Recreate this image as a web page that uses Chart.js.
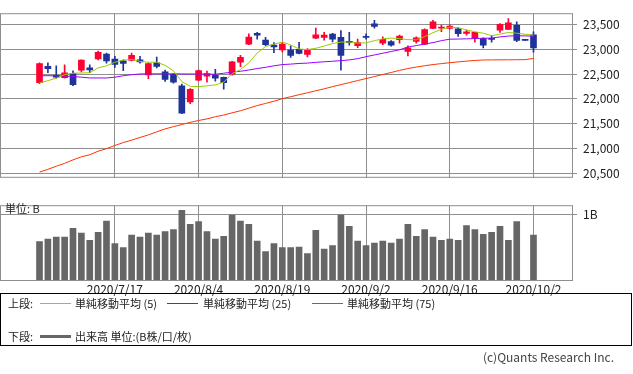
<!DOCTYPE html>
<html lang="ja">
<head>
<meta charset="UTF-8">
<title>日足チャート</title>
<script src="https://cdn.jsdelivr.net/npm/chart.js"></script>
<style>
    body {
        margin: 0;
        width: 633px;
        height: 374px;
        position: relative;
        overflow: hidden;
        background: #fff;
        font-family: "Noto Sans CJK JP", sans-serif;
        color: #222;
    }
    #priceCanvas { position: absolute; left: 0; top: 0; }
    #volCanvas { position: absolute; left: 0; top: 192px; }
    #unit { position: absolute; left: 5px; top: 201px; font-size: 11px; line-height: 14px; }
    #legend {
        position: absolute; left: 0; top: 293px;
        width: 630px; height: 51px;
        border: 1px solid #000;
        font-size: 11px;
    }
    #legend span { position: absolute; line-height: 14px; white-space: nowrap; }
    #legend i { position: absolute; display: block; width: 31px; }
    #copy { position: absolute; right: 19px; top: 350px; font-size: 12px; color: #444; line-height: 14px; }
</style>
</head>
<body>
<canvas id="priceCanvas" width="633" height="191"></canvas>
<canvas id="volCanvas" width="633" height="108"></canvas>
<div id="unit">単位: B</div>

<div id="legend">
    <span style="left:7px;top:2px">上段:</span>
    <i style="left:39px;top:9px;border-top:1px solid #99cc00"></i>
    <span style="left:74px;top:2px">単純移動平均 (5)</span>
    <i style="left:166px;top:9px;border-top:1px solid #9900ff"></i>
    <span style="left:202px;top:2px">単純移動平均 (25)</span>
    <i style="left:311px;top:9px;border-top:1px solid #ff3300"></i>
    <span style="left:346px;top:2px">単純移動平均 (75)</span>

    <span style="left:7px;top:35px">下段:</span>
    <i style="left:39px;top:41px;border-top:3px solid #666"></i>
    <span style="left:74px;top:35px">出来高 単位:(B株/口/枚)</span>
</div>
<div id="copy">(c)Quants Research Inc.</div>

<script>
    // trading days shown (10/1 = TSE system outage, no trades)
    const dates = [
        '2020/7/6', '2020/7/7', '2020/7/8', '2020/7/9', '2020/7/10', '2020/7/13', '2020/7/14', '2020/7/15', '2020/7/16', '2020/7/17',
        '2020/7/20', '2020/7/21', '2020/7/22', '2020/7/27', '2020/7/28', '2020/7/29', '2020/7/30', '2020/7/31', '2020/8/3', '2020/8/4',
        '2020/8/5', '2020/8/6', '2020/8/7', '2020/8/11', '2020/8/12', '2020/8/13', '2020/8/14', '2020/8/17', '2020/8/18', '2020/8/19',
        '2020/8/20', '2020/8/21', '2020/8/24', '2020/8/25', '2020/8/26', '2020/8/27', '2020/8/28', '2020/8/31', '2020/9/1', '2020/9/2',
        '2020/9/3', '2020/9/4', '2020/9/7', '2020/9/8', '2020/9/9', '2020/9/10', '2020/9/11', '2020/9/14', '2020/9/15', '2020/9/16',
        '2020/9/17', '2020/9/18', '2020/9/23', '2020/9/24', '2020/9/25', '2020/9/28', '2020/9/29', '2020/9/30', '2020/10/1', '2020/10/2'
    ];

    const openP = [
        22330, 22660, 22480, 22430, 22520, 22580, 22630, 22810, 22910, 22805,
        22770, 22780, 22790, 22485, 22730, 22550, 22500, 22265, 21940, 22380,
        22460, 22480, 22435, 22500, 22745, 23110, 23330, 23190, 23090, 22990,
        22990, 23005, 22900, 23230, 23245, 23310, 23245, 23165, 23078, 23262,
        23520, 23130, 23160, 23200, 22960, 23165, 23110, 23425, 23430, 23425,
        23418, 23328, 23235, 23220, 23221, 23390, 23405, 23488, 23185, 23295
    ];
    const highP = [
        22730, 22730, 22670, 22690, 22570, 22790, 22690, 22970, 22930, 22860,
        22790, 22930, 22860, 22730, 22845, 22585, 22515, 22300, 22210, 22590,
        22565, 22600, 22440, 22760, 22880, 23315, 23350, 23245, 23140, 23145,
        23075, 23145, 23020, 23435, 23350, 23330, 23385, 23350, 23210, 23315,
        23590, 23255, 23180, 23290, 23075, 23255, 23420, 23590, 23495, 23500,
        23440, 23395, 23350, 23235, 23280, 23525, 23625, 23560, 23185, 23360
    ];
    const lowP = [
        22310, 22530, 22420, 22420, 22270, 22545, 22530, 22790, 22725, 22640,
        22570, 22770, 22726, 22410, 22630, 22355, 22320, 21700, 21905, 22370,
        22340, 22360, 22200, 22480, 22655, 23100, 23210, 23080, 22935, 22950,
        22840, 22910, 22850, 23220, 23190, 23155, 22580, 23090, 23035, 23210,
        23430, 23100, 23070, 23130, 22870, 23130, 23100, 23420, 23360, 23410,
        23265, 23290, 23150, 23030, 23150, 23345, 23400, 23160, 23185, 22945
    ];
    const closeP = [
        22714, 22614, 22439, 22529, 22291, 22785, 22587, 22945, 22770, 22696,
        22717, 22884, 22751, 22716, 22657, 22397, 22339, 21710, 22195, 22574,
        22515, 22418, 22330, 22750, 22844, 23250, 23289, 23097, 23051, 23111,
        22881, 22920, 22986, 23297, 23291, 23209, 22883, 23140, 23138, 23247,
        23466, 23205, 23090, 23274, 23033, 23235, 23406, 23559, 23455, 23475,
        23319, 23360, 23346, 23088, 23205, 23512, 23539, 23185, 23185, 23030
    ];

    const ma5 = [
        22325, 22370, 22420, 22490, 22520, 22525, 22530, 22630, 22670, 22743,
        22785, 22800, 22760, 22743, 22745, 22680, 22570, 22350, 22255, 22250,
        22265, 22285, 22340, 22511, 22593, 22730, 22930, 23060, 23110, 23150,
        23092, 23011, 22999, 23025, 23070, 23120, 23150, 23151, 23130, 23135,
        23180, 23215, 23232, 23221, 23200, 23197, 23260, 23340, 23410, 23453,
        23443, 23395, 23360, 23330, 23280, 23313, 23345, 23330, 23310, 23290
    ];
    const ma25 = [
        22470, 22470, 22468, 22462, 22455, 22440, 22425, 22424, 22424, 22440,
        22470, 22490, 22505, 22507, 22508, 22508, 22507, 22506, 22505, 22504,
        22502, 22500, 22520, 22543, 22560, 22585, 22615, 22640, 22670, 22695,
        22705, 22718, 22725, 22740, 22752, 22762, 22775, 22790, 22815, 22855,
        22890, 22925, 22960, 22995, 23050, 23080, 23110, 23140, 23180, 23209,
        23212, 23216, 23222, 23228, 23232, 23255, 23272, 23279, 23276, 23270
    ];
    const ma75 = [
        20519, 20576, 20637, 20697, 20767, 20828, 20871, 20942, 20994, 21058,
        21116, 21167, 21220, 21272, 21334, 21394, 21439, 21482, 21526, 21564,
        21596, 21639, 21674, 21718, 21761, 21813, 21866, 21909, 21953, 22005,
        22045, 22085, 22125, 22165, 22205, 22248, 22290, 22330, 22372, 22412,
        22452, 22495, 22535, 22578, 22615, 22645, 22672, 22695, 22715, 22733,
        22750, 22765, 22778, 22788, 22790, 22791, 22792, 22793, 22795, 22820
    ];

    // volume in B (billion shares)
    const volume = [
        0.59, 0.63, 0.66, 0.66, 0.79, 0.72, 0.61, 0.73, 0.90, 0.56,
        0.50, 0.69, 0.66, 0.72, 0.69, 0.74, 0.77, 1.06, 0.85, 0.89,
        0.74, 0.63, 0.67, 0.99, 0.90, 0.85, 0.60, 0.44, 0.56, 0.50,
        0.50, 0.51, 0.41, 0.76, 0.48, 0.53, 0.99, 0.82, 0.60, 0.53,
        0.57, 0.60, 0.57, 0.63, 0.85, 0.67, 0.77, 0.66, 0.61, 0.63,
        0.61, 0.83, 0.77, 0.70, 0.73, 0.82, 0.61, 0.89, null, 0.69
    ];

    const tickDates = ['2020/7/17', '2020/8/4', '2020/8/19', '2020/9/2', '2020/9/16', '2020/10/2'];
    const priceTicks = [20500, 21000, 21500, 22000, 22500, 23000, 23500];
    const volTicks = [1];

    const UP = '#ff0033';
    const DOWN = '#1f3399';
    const GRID = '#8e8e8e';

    Chart.defaults.font.family = '"Noto Sans CJK JP", sans-serif';
    Chart.defaults.color = '#222';

    const tickIdx = tickDates.map(d => dates.indexOf(d));
    const candleColors = closeP.map((c, i) => c > openP[i] ? UP : DOWN);
    const xy = arr => arr.map((v, i) => ({ x: i, y: v }));

    // shared x range: a few empty slots either side of the candles
    const X_MIN = -4.72;
    const X_MAX = 63.72;

    // draws the plot frame
    const framePlugin = {
        id: 'frame',
        afterDraw(chart) {
            const { ctx, chartArea: a } = chart;
            ctx.save();
            ctx.strokeStyle = GRID;
            ctx.lineWidth = 1;
            ctx.strokeRect(a.left + 0.5, a.top + 0.5, a.right - a.left - 1, a.bottom - a.top - 1);
            ctx.restore();
        }
    };

    function xScale(showLabels) {
        return {
            type: 'linear',
            min: X_MIN,
            max: X_MAX,
            offset: false,
            afterBuildTicks: s => { s.ticks = tickIdx.map(v => ({ value: v })); },
            afterFit: s => { s.height = showLabels ? 19 : 0; },
            ticks: {
                display: showLabels,
                autoSkip: false,
                maxRotation: 0,
                padding: 1,
                font: { size: 12 },
                callback: v => dates[v]
            },
            grid: { color: GRID, lineWidth: 1, drawTicks: false, offset: false },
            border: { display: false }
        };
    }

    // upper panel: candles + moving averages
    new Chart(document.getElementById('priceCanvas'), {
        data: {
            datasets: [
                { type: 'line', label: '単純移動平均 (5)', data: xy(ma5), borderColor: '#99cc00', borderWidth: 1, pointRadius: 0 },
                { type: 'line', label: '単純移動平均 (25)', data: xy(ma25), borderColor: '#9900ff', borderWidth: 1, pointRadius: 0 },
                { type: 'line', label: '単純移動平均 (75)', data: xy(ma75), borderColor: '#ff3300', borderWidth: 1, pointRadius: 0 },
                {
                    type: 'bar', label: 'body',
                    data: openP.map((o, i) => ({ x: i, y: [o, closeP[i]] })),
                    backgroundColor: candleColors, barThickness: 6, grouped: false, minBarLength: 1
                },
                {
                    type: 'bar', label: 'wick',
                    data: lowP.map((l, i) => ({ x: i, y: [l, highP[i]] })),
                    backgroundColor: candleColors, barThickness: 1, grouped: false
                }
            ]
        },
        options: {
            responsive: false,
            animation: false,
            devicePixelRatio: 1,
            layout: { padding: 0 },
            plugins: { legend: { display: false }, tooltip: { enabled: false } },
            scales: {
                x: xScale(false),
                y: {
                    position: 'right',
                    min: 20404,
                    max: 23735,
                    afterBuildTicks: s => { s.ticks = priceTicks.map(v => ({ value: v })); },
                    afterFit: s => { s.width = 60; },
                    ticks: {
                        padding: 6,
                        font: { size: 12 },
                        callback: v => v.toLocaleString('en-US')
                    },
                    grid: { color: GRID, lineWidth: 1, tickLength: 4 },
                    border: { display: false }
                }
            }
        },
        plugins: [framePlugin]
    });

    // lower panel: volume
    new Chart(document.getElementById('volCanvas'), {
        data: {
            datasets: [
                {
                    type: 'bar', label: '出来高',
                    data: xy(volume),
                    backgroundColor: '#666666', barThickness: 6
                }
            ]
        },
        options: {
            responsive: false,
            animation: false,
            devicePixelRatio: 1,
            layout: { padding: { top: 10 } },
            plugins: { legend: { display: false }, tooltip: { enabled: false } },
            scales: {
                x: xScale(true),
                y: {
                    position: 'right',
                    min: 0,
                    max: 1.137,
                    afterBuildTicks: s => { s.ticks = volTicks.map(v => ({ value: v })); },
                    afterFit: s => { s.width = 60; },
                    ticks: {
                        padding: 6,
                        font: { size: 12 },
                        callback: v => v + 'B'
                    },
                    grid: { color: GRID, lineWidth: 1, tickLength: 4 },
                    border: { display: false }
                }
            }
        },
        plugins: [framePlugin]
    });
</script>
</body>
</html>
